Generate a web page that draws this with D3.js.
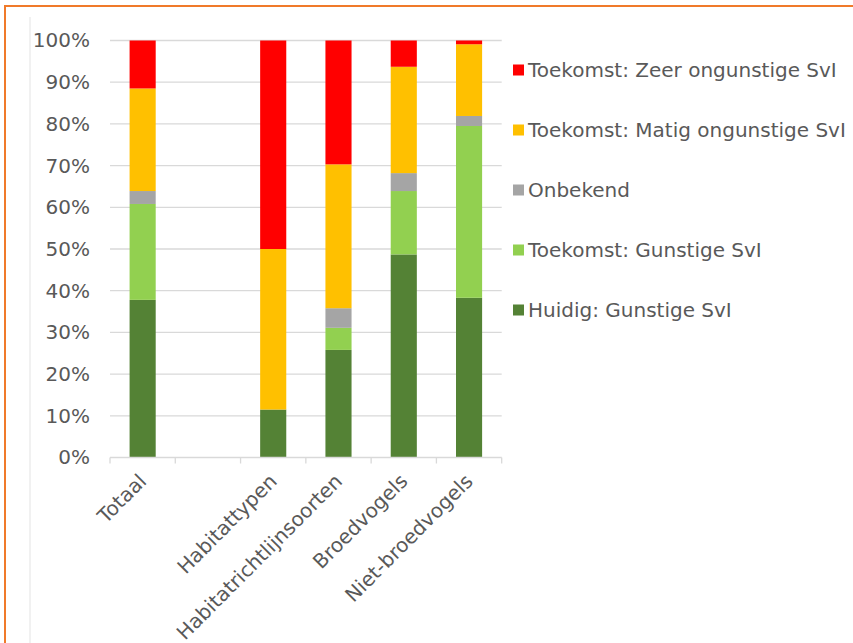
<!DOCTYPE html>
<html>
<head>
<meta charset="utf-8">
<script src="https://cdn.jsdelivr.net/npm/d3@7/dist/d3.min.js"></script>
<style>
  html, body { margin: 0; padding: 0; background: #ffffff; }
  svg { display: block; }
  text { font-family: "DejaVu Sans", Verdana, sans-serif; fill: #595959; }
</style>
</head>
<body>
<svg id="chart" width="853" height="643"></svg>
<script>
// Categories (the second slot is intentionally left empty)
const categories = ["Totaal", "", "Habitattypen", "Habitatrichtlijnsoorten", "Broedvogels", "Niet-broedvogels"];

// Shares per category, in percent (bottom to top of each stack)
const huidigGunstig      = [37.8, 0, 11.5, 25.8, 48.7, 38.3];
const toekomstGunstig    = [23.0, 0,  0.0,  5.3, 15.2, 41.2];
const onbekend           = [ 3.1, 0,  0.0,  4.7,  4.3,  2.4];
const toekomstMatig      = [24.6, 0, 38.5, 34.5, 25.5, 17.2];
const toekomstZeer       = [11.5, 0, 50.0, 29.7,  6.3,  0.9];

const seriesNames = [
  "Huidig: Gunstige SvI",
  "Toekomst: Gunstige SvI",
  "Onbekend",
  "Toekomst: Matig ongunstige SvI",
  "Toekomst: Zeer ongunstige SvI"
];
const seriesValues = [huidigGunstig, toekomstGunstig, onbekend, toekomstMatig, toekomstZeer];
const seriesColors = ["#548235", "#92D050", "#A5A5A5", "#FFC000", "#FF0000"];

const yTicks = [0, 10, 20, 30, 40, 50, 60, 70, 80, 90, 100];

const svg = d3.select("#chart");

// Outer frame
svg.append("rect")
  .attr("x", 5).attr("y", 6)
  .attr("width", 860).attr("height", 660)
  .attr("fill", "none")
  .attr("stroke", "#F07A2A")
  .attr("stroke-width", 2);

// Faint chart-area edge
svg.append("line")
  .attr("x1", 30).attr("x2", 30)
  .attr("y1", 17).attr("y2", 643)
  .attr("stroke", "#ececec").attr("stroke-width", 1.5);

const plot = { left: 110, right: 501.7, top: 40.5, bottom: 457.5 };

const x = d3.scaleBand()
  .domain(categories)
  .range([plot.left, plot.right])
  .paddingInner(0.6)
  .paddingOuter(0.3);

const y = d3.scaleLinear()
  .domain([0, 100])
  .range([plot.bottom, plot.top]);

// Horizontal gridlines
svg.append("g")
  .selectAll("line")
  .data(yTicks.filter(d => d > 0))
  .join("line")
  .attr("x1", plot.left).attr("x2", plot.right)
  .attr("y1", d => y(d)).attr("y2", d => y(d))
  .attr("stroke", "#d9d9d9").attr("stroke-width", 1.3);

// Y axis labels
const yAxis = d3.axisLeft(y)
  .tickValues(yTicks)
  .tickFormat(d => d + "%")
  .tickSize(0)
  .tickPadding(0);
const gy = svg.append("g")
  .attr("transform", `translate(${plot.left - 20},0)`)
  .call(yAxis);
gy.select(".domain").remove();
gy.selectAll("text")
  .attr("font-size", 20)
  .attr("font-family", "DejaVu Sans, Verdana, sans-serif")
  .attr("fill", "#595959");

// Stacked bars
const rows = categories.map((c, i) => {
  const r = { category: c };
  seriesNames.forEach((s, k) => { r[s] = seriesValues[k][i]; });
  return r;
});
const stacked = d3.stack().keys(seriesNames)(rows);

svg.append("g")
  .selectAll("g")
  .data(stacked)
  .join("g")
  .attr("fill", (d, i) => seriesColors[i])
  .selectAll("rect")
  .data(d => d.filter(p => p[1] - p[0] > 0))
  .join("rect")
  .attr("x", d => x(d.data.category))
  .attr("width", x.bandwidth())
  .attr("y", d => y(d[1]))
  .attr("height", d => y(d[0]) - y(d[1]));

// X axis line with category separators
const gx = svg.append("g");
gx.append("line")
  .attr("x1", plot.left).attr("x2", plot.right)
  .attr("y1", plot.bottom).attr("y2", plot.bottom)
  .attr("stroke", "#d9d9d9").attr("stroke-width", 1.3);
gx.selectAll("line.sep")
  .data(d3.range(categories.length + 1))
  .join("line")
  .attr("class", "sep")
  .attr("x1", i => plot.left + i * x.step())
  .attr("x2", i => plot.left + i * x.step())
  .attr("y1", plot.bottom).attr("y2", plot.bottom + 6)
  .attr("stroke", "#d9d9d9").attr("stroke-width", 1.3);

// Rotated category labels
gx.selectAll("text")
  .data(categories.filter(c => c !== ""))
  .join("text")
  .attr("text-anchor", "end")
  .attr("font-size", 20)
  .attr("transform", c => `translate(${x(c) + x.bandwidth() / 2 + 5},${plot.bottom + 25}) rotate(-45)`)
  .text(c => c);

// Legend (top entry is the top of the stack)
const legendOrder = [4, 3, 2, 1, 0];
const legend = svg.append("g");
legendOrder.forEach((k, row) => {
  const cy = 70 + row * 60;
  legend.append("rect")
    .attr("x", 513).attr("y", cy - 5.5)
    .attr("width", 11).attr("height", 11)
    .attr("fill", seriesColors[k]);
  legend.append("text")
    .attr("x", 528).attr("y", cy)
    .attr("dy", "0.36em")
    .attr("font-size", 20)
    .text(seriesNames[k]);
});
</script>
</body>
</html>
